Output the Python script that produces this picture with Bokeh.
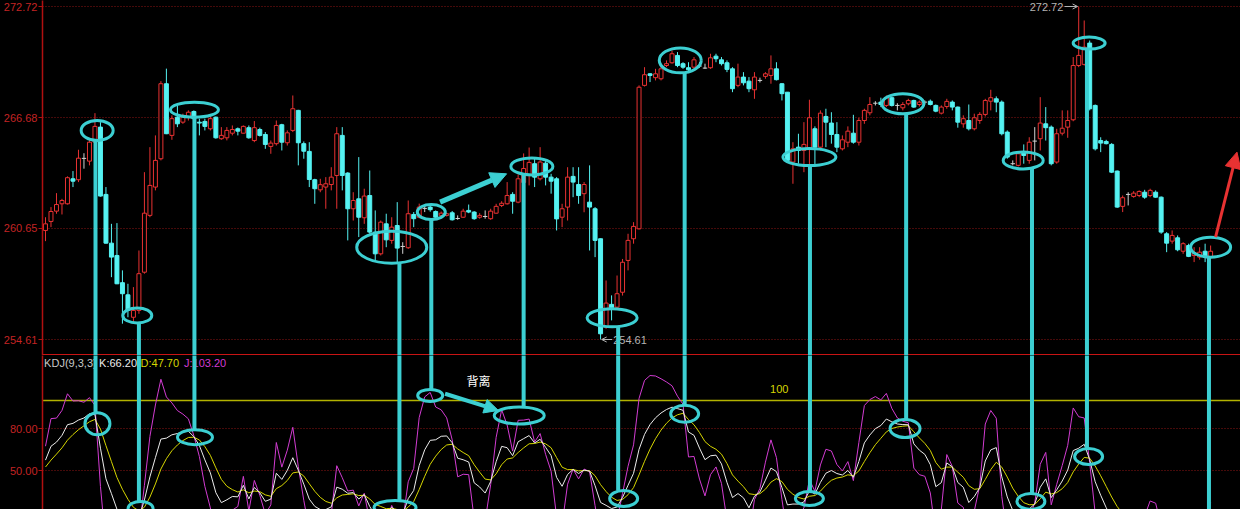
import numpy as np
from bokeh.plotting import figure
from bokeh.models import (Range1d, FixedTicker, PrintfTickFormatter, Span, Label,
                          Arrow, NormalHead, OpenHead)
from bokeh.layouts import column
from bokeh.embed import file_html
from bokeh.resources import INLINE

# ---------------- price bars (open / high / low / close) ----------------
open_ = [260.54, 261.03, 261.59, 261.99, 261.99, 263.35, 263.30, 264.46, 264.31, 265.34,
         266.16, 262.50, 259.85, 259.18, 257.70, 257.04, 255.82, 256.19, 258.27, 261.36,
         262.90, 264.44, 268.52, 265.71, 266.70, 266.43, 266.70, 267.01, 266.43, 266.47,
         266.07, 266.70, 265.53, 265.58, 265.83, 266.07, 265.83, 266.13, 265.43, 266.03,
         265.76, 265.11, 265.26, 266.29, 265.31, 265.98, 267.07, 265.26, 264.84, 263.30,
         262.75, 262.90, 263.04, 263.53, 265.71, 263.66, 261.72, 262.26, 261.23, 262.44,
         260.45, 259.27, 260.90, 260.00, 260.81, 259.67, 259.60, 261.41, 261.26, 261.74,
         261.81, 261.57, 261.36, 261.36, 261.50, 261.19, 261.26, 261.63, 261.54, 261.26,
         261.30, 261.18, 261.48, 261.90, 261.99, 262.50, 262.08, 263.15, 263.53, 264.17,
         263.35, 264.20, 263.44, 263.35, 261.26, 261.81, 263.48, 263.04, 262.54, 262.08,
         261.72, 260.09, 255.28, 256.52, 256.37, 257.18, 258.91, 260.09, 260.63, 268.43,
         269.06, 268.85, 268.79, 269.51, 269.66, 270.06, 269.61, 269.39, 269.42, 269.48,
         269.37, 269.39, 270.02, 269.82, 269.66, 269.33, 268.43, 268.88, 268.66, 268.19,
         268.70, 268.92, 268.97, 269.33, 268.52, 268.06, 264.26, 265.07, 264.89, 264.98,
         266.07, 265.07, 266.74, 266.38, 265.76, 264.98, 265.34, 265.83, 265.34, 266.52,
         266.94, 267.46, 267.52, 267.34, 267.76, 267.34, 267.21, 267.43, 267.61, 267.39,
         267.52, 267.57, 267.34, 266.92, 267.28, 267.52, 267.25, 266.34, 266.52, 266.07,
         266.52, 266.85, 267.57, 267.70, 267.52, 265.89, 264.17, 264.08, 264.80, 264.35,
         265.40, 265.53, 266.34, 266.16, 264.26, 265.83, 266.16, 266.56, 269.51, 269.57,
         270.73, 267.34, 265.43, 265.38, 265.22, 263.77, 261.85, 262.50, 262.39, 262.44,
         262.62, 262.44, 262.62, 262.35, 260.36, 259.96, 260.14, 259.41, 259.72, 259.18,
         259.09, 259.41, 259.09]
high = [261.26, 261.81, 262.57, 262.26, 263.48, 263.77, 264.93, 264.74, 265.53, 266.92,
        266.43, 262.90, 260.90, 260.94, 258.37, 257.64, 257.46, 259.45, 263.71, 265.07,
        265.71, 268.66, 269.34, 266.80, 267.34, 266.89, 267.07, 267.07, 266.62, 266.62,
        266.80, 266.74, 266.16, 266.16, 266.25, 266.14, 266.25, 266.25, 266.49, 266.13,
        265.89, 265.43, 266.52, 266.34, 265.98, 267.88, 267.10, 265.38, 265.34, 263.35,
        263.35, 263.44, 263.98, 266.16, 266.16, 263.71, 262.62, 264.53, 262.81, 263.80,
        261.63, 261.08, 261.45, 261.26, 262.08, 259.90, 262.17, 261.54, 262.00, 261.90,
        261.90, 261.63, 261.57, 261.50, 261.60, 261.36, 261.72, 261.95, 261.59, 261.48,
        261.63, 261.72, 261.99, 262.13, 263.17, 262.62, 263.59, 264.73, 265.05, 264.53,
        265.07, 264.35, 263.62, 263.44, 261.99, 263.98, 263.98, 263.98, 263.17, 264.08,
        261.81, 260.10, 257.82, 257.01, 258.09, 258.99, 260.36, 260.99, 268.43, 269.42,
        269.10, 269.33, 269.61, 269.79, 270.33, 270.24, 269.69, 269.69, 269.97, 269.69,
        269.61, 270.15, 270.15, 269.97, 269.79, 269.42, 269.61, 269.15, 268.88, 269.15,
        268.85, 269.15, 270.06, 269.69, 268.55, 268.06, 265.34, 265.80, 266.43, 267.65,
        266.20, 267.07, 267.16, 266.97, 266.43, 265.71, 266.20, 266.83, 266.67, 267.16,
        267.79, 267.57, 267.76, 267.88, 267.83, 267.46, 267.52, 267.70, 267.65, 267.61,
        267.61, 267.66, 267.39, 267.34, 267.70, 267.61, 267.28, 266.80, 267.39, 266.89,
        266.97, 267.70, 268.19, 267.83, 267.61, 265.98, 264.35, 264.80, 265.22, 265.61,
        266.16, 267.79, 267.25, 266.25, 266.07, 267.07, 267.07, 269.97, 272.72, 271.96,
        270.87, 267.39, 265.61, 265.47, 265.29, 263.80, 262.44, 262.62, 262.68, 262.72,
        262.75, 262.81, 262.72, 262.39, 260.45, 260.54, 260.27, 259.90, 259.82, 259.63,
        259.63, 259.82, 259.72]
low = [259.96, 260.72, 261.45, 261.41, 261.95, 262.90, 263.17, 263.90, 264.08, 265.30,
       262.38, 259.82, 258.00, 257.62, 255.47, 255.82, 255.55, 256.01, 258.19, 261.26,
       262.72, 264.35, 265.78, 265.47, 266.16, 266.34, 266.52, 266.43, 265.71, 265.98,
       265.98, 265.53, 265.47, 265.44, 265.71, 265.71, 265.82, 265.53, 265.34, 265.65,
       264.98, 264.71, 265.16, 264.89, 265.16, 265.89, 264.08, 264.44, 262.90, 261.99,
       262.62, 261.72, 262.72, 261.72, 262.72, 260.00, 261.08, 260.18, 260.90, 260.36,
       258.91, 259.18, 259.63, 259.82, 258.82, 259.27, 259.54, 260.72, 261.20, 261.54,
       261.56, 261.20, 261.31, 261.30, 261.08, 261.12, 261.23, 261.48, 261.12, 261.18,
       261.18, 261.12, 261.45, 261.81, 261.95, 261.45, 262.02, 263.10, 262.99, 262.90,
       263.26, 262.99, 262.54, 260.54, 260.72, 261.08, 262.35, 261.99, 261.53, 259.45,
       259.09, 254.61, 255.19, 255.65, 256.28, 257.00, 258.37, 259.82, 260.59, 268.37,
       268.61, 268.70, 268.70, 269.42, 269.61, 269.42, 269.33, 269.15, 269.33, 269.39,
       269.33, 269.33, 269.69, 269.51, 269.15, 268.06, 268.33, 268.43, 268.06, 267.70,
       268.59, 268.79, 268.52, 268.70, 267.61, 264.31, 263.08, 264.17, 263.71, 264.08,
       264.08, 264.89, 265.07, 265.26, 264.80, 264.89, 265.07, 265.26, 265.16, 266.34,
       266.80, 267.34, 267.25, 267.25, 267.28, 267.07, 267.07, 267.34, 267.21, 267.28,
       267.39, 267.34, 266.97, 266.85, 267.16, 267.07, 266.13, 266.13, 265.98, 265.98,
       266.34, 266.74, 267.07, 266.97, 265.71, 264.44, 264.08, 264.02, 264.17, 264.17,
       264.35, 264.89, 265.43, 264.08, 264.17, 265.71, 265.58, 266.48, 269.42, 269.51,
       267.07, 264.89, 264.80, 265.22, 263.66, 261.77, 261.54, 261.90, 262.32, 262.35,
       262.26, 262.35, 262.32, 260.36, 259.36, 259.82, 259.41, 259.27, 259.09, 258.82,
       258.95, 258.82, 259.00]
close = [260.90, 261.57, 261.95, 262.17, 263.41, 263.22, 264.47, 264.46, 265.34, 266.20,
         262.41, 259.85, 259.09, 257.64, 257.10, 256.19, 256.19, 258.19, 261.48, 262.99,
         264.35, 268.52, 265.80, 266.62, 266.34, 266.70, 266.97, 266.62, 266.38, 266.20,
         266.62, 265.58, 265.71, 265.98, 266.03, 265.94, 266.20, 265.58, 266.13, 265.71,
         265.22, 265.29, 266.25, 265.34, 265.85, 267.16, 265.31, 264.85, 263.31, 262.81,
         263.03, 263.08, 263.44, 265.80, 263.53, 261.72, 262.17, 261.26, 262.41, 260.45,
         259.27, 260.99, 260.03, 260.72, 259.58, 259.67, 261.45, 261.18, 261.81, 261.74,
         261.67, 261.26, 261.48, 261.45, 261.12, 261.19, 261.59, 261.54, 261.18, 261.36,
         261.30, 261.59, 261.85, 262.02, 262.44, 262.13, 263.35, 263.91, 264.24, 263.44,
         264.26, 263.44, 263.22, 261.17, 261.72, 263.44, 263.17, 262.44, 263.04, 261.81,
         260.00, 254.92, 256.59, 256.34, 257.10, 258.81, 260.00, 260.76, 268.33, 269.01,
         268.97, 269.06, 269.33, 269.61, 270.15, 269.51, 269.42, 269.28, 269.82, 269.48,
         269.37, 269.93, 269.88, 269.61, 269.30, 268.25, 268.88, 268.57, 268.25, 268.88,
         268.70, 269.06, 269.33, 268.74, 267.98, 264.35, 264.98, 264.89, 265.22, 266.67,
         265.07, 266.92, 266.43, 265.76, 265.07, 265.47, 265.94, 265.34, 266.52, 267.07,
         267.39, 267.46, 267.39, 267.76, 267.34, 267.34, 267.39, 267.61, 267.25, 267.52,
         267.52, 267.39, 267.03, 267.25, 267.56, 267.25, 266.43, 266.62, 266.07, 266.67,
         266.85, 267.61, 267.76, 267.52, 265.80, 264.53, 264.17, 264.71, 264.62, 265.34,
         265.40, 266.38, 266.13, 264.17, 265.80, 266.10, 266.52, 269.51, 270.06, 270.51,
         267.16, 264.98, 265.29, 265.26, 263.71, 261.81, 262.32, 262.50, 262.57, 262.66,
         262.35, 262.72, 262.35, 260.45, 259.85, 260.27, 259.49, 259.82, 259.13, 259.33,
         259.36, 259.09, 259.41]

price_ticks = [254.61, 260.65, 266.68, 272.72]
kdj_ticks = [50.0, 80.0]
kdj_header = ["KDJ(9,3,3)", "K:66.20", "D:47.70", "J:103.20"]
kdj_level = 100.0

# ---------------- hand-drawn markup: turning points ----------------
mark_x = [9.1, 17.0, 27.1, 64.4, 70.2, 87.0, 104.2, 116.3, 139.1, 156.6, 179.5, 189.5, 211.7]
# rings around the price turning points (bar position, price)
ring_px = [9.4, 16.7, 27.1, 63.0, 70.2, 88.5, 103.1, 115.5, 139.0, 156.0, 177.9, 189.9, 212.0]
ring_py = [265.98, 255.92, 267.11, 259.63, 261.54, 264.02, 255.79, 269.79, 264.53, 267.43,
           264.35, 270.73, 259.63]
ring_pw = [32, 29, 48, 70, 28, 42, 50, 42, 53, 42, 40, 32, 40]
ring_ph = [20, 15, 15, 32, 15, 17, 18, 25, 17, 20, 17, 12, 20]
# rings around the matching KDJ turning points (None: line runs to the bottom)
ring_kx = [9.45, 17.3, 27.2, 63.6, 70.0, 86.2, 105.2, 116.3, 139.0, 156.4, 179.3, 189.8, None]
ring_ky = [83.4, 22.9, 73.8, 23.6, 103.6, 89.3, 30.0, 90.5, 30.0, 80.0, 27.9, 60.0, None]
ring_kw = [25, 25, 35, 42, 25, 50, 28, 28, 28, 30, 28, 28, 0]
ring_kh = [22, 14, 15, 14, 12, 17, 16, 17, 14, 18, 16, 16, 0]

# ---------------- layout constants ----------------
W, H_TOP, H_BOT, LEFT = 1240, 355, 154, 40
BAR_PX, FIRST_PX = 5.505, 43.0
BG = "black"
UP, DOWN, FLAT = "#e83232", "#55f2f2", "#d2d2d2"
ANN = "#3ccfd2"
AXIS_RED, LABEL_RED, GRID_RED = "#b01010", "#c42424", "#8c1414"
K_COL, D_COL, J_COL = "#ececec", "#d6d600", "#d23cd2"
FONT = "Liberation Sans"

o = np.array(open_); h = np.array(high); l = np.array(low); c = np.array(close)
n = len(c)
idx = np.arange(n)

# KDJ(9,3,3)
K, D = [], []
kp = dp = 50.0
for i in range(n):
    lo = l[max(0, i - 8):i + 1].min()
    hi = h[max(0, i - 8):i + 1].max()
    rsv = (c[i] - lo) / (hi - lo) * 100 if hi > lo else 50.0
    kp = 2 / 3 * kp + rsv / 3
    dp = 2 / 3 * dp + kp / 3
    K.append(kp); D.append(dp)
K = np.array(K); D = np.array(D); J = 3 * K - 2 * D

xr = Range1d((LEFT - FIRST_PX) / BAR_PX, (W - FIRST_PX) / BAR_PX)
p_scale = (price_ticks[-1] - price_ticks[0]) / 333.0          # price per pixel
yr_top = Range1d(price_ticks[-1] - (H_TOP - 6) * p_scale, price_ticks[-1] + 6 * p_scale)
k_scale = 30.0 / 42.0                                          # kdj units per pixel
yr_bot = Range1d(80 - 81 * k_scale, 80 + 73 * k_scale)


def make_fig(height, yr, ticks):
    p = figure(width=W, height=height, x_range=xr, y_range=yr, output_backend="svg",
               toolbar_location=None, x_axis_location=None, y_axis_location="left",
               min_border_left=LEFT, min_border_right=0, min_border_top=0, min_border_bottom=0,
               background_fill_color=BG, border_fill_color=BG, outline_line_color=None)
    for g in p.xgrid:
        g.grid_line_color = None
    ax = p.yaxis[0]
    ax.ticker = FixedTicker(ticks=ticks)
    ax.formatter = PrintfTickFormatter(format="%.2f")
    ax.axis_line_color = AXIS_RED
    ax.axis_line_width = 1.5
    ax.major_tick_line_color = AXIS_RED
    ax.major_tick_in = 0
    ax.major_tick_out = 4
    ax.minor_tick_line_color = None
    ax.major_label_text_color = LABEL_RED
    ax.major_label_text_font = FONT
    ax.major_label_text_font_size = "11px"
    ax.major_label_standoff = 1
    g = p.ygrid[0]
    g.ticker = FixedTicker(ticks=ticks)
    g.grid_line_color = GRID_RED
    g.grid_line_dash = "1 2"
    g.grid_line_width = 1
    return p


p1 = make_fig(H_TOP, yr_top, price_ticks)
p2 = make_fig(H_BOT, yr_bot, kdj_ticks)

# ---- candlesticks ----
up = c > o
dn = c < o
fl = c == o
wick_col = np.where(up, UP, np.where(dn, DOWN, FLAT)).tolist()
p1.segment(idx, l, idx, h, color=wick_col, line_width=1)
p1.vbar(x=idx[up], bottom=o[up], top=c[up], width=0.72, fill_color=BG, line_color=UP, line_width=1)
p1.vbar(x=idx[dn], bottom=c[dn], top=o[dn], width=0.72, fill_color=DOWN, line_color=DOWN, line_width=1)
p1.segment(idx[fl] - 0.4, c[fl], idx[fl] + 0.4, c[fl], color=FLAT, line_width=1)

# panel separator
p1.add_layout(Span(location=yr_top.start + 0.8 * p_scale, dimension="width",
                   line_color="#c81414", line_width=1.5))

# extreme price markers
hi_i, lo_i = int(np.argmax(h)), int(np.argmin(l))
p1.add_layout(Arrow(end=OpenHead(size=5, line_color="#b4b4b4", line_width=1),
                    x_start=hi_i - 2.6, y_start=h[hi_i], x_end=hi_i - 0.2, y_end=h[hi_i],
                    line_color="#b4b4b4", line_width=1))
p1.add_layout(Label(x=hi_i - 2.8, y=h[hi_i], text=f"{h[hi_i]:.2f}", text_align="right",
                    text_baseline="middle", text_color="#b4b4b4", text_font=FONT,
                    text_font_size="11px"))
p1.add_layout(Arrow(end=OpenHead(size=5, line_color="#b4b4b4", line_width=1),
                    x_start=lo_i + 2.1, y_start=l[lo_i], x_end=lo_i + 0.2, y_end=l[lo_i],
                    line_color="#b4b4b4", line_width=1))
p1.add_layout(Label(x=lo_i + 2.3, y=l[lo_i], text=f"{l[lo_i]:.2f}", text_align="left",
                    text_baseline="middle", text_color="#b4b4b4", text_font=FONT,
                    text_font_size="11px"))

# ---- KDJ panel ----
p2.add_layout(Span(location=kdj_level, dimension="width", line_color="#b2b200",
                   line_width=1.5, level="underlay"))
p2.line(idx, J, line_color=J_COL, line_width=1)
p2.line(idx, D, line_color=D_COL, line_width=1)
p2.line(idx, K, line_color=K_COL, line_width=1)
p2.add_layout(Label(x=133.5, y=kdj_level + 8.5, text=f"{kdj_level:.0f}", text_color="#d6d600",
                    text_font=FONT, text_font_size="11px", text_align="center",
                    text_baseline="middle"))
head_x = [-0.25, 9.75, 17.3, 25.2]
head_col = ["#c8c8c8", K_COL, D_COL, J_COL]
for hx, txt, col in zip(head_x, kdj_header, head_col):
    p2.add_layout(Label(x=hx, y=126.6, text=txt, text_color=col, text_font=FONT,
                        text_font_size="11px", text_baseline="middle"))

# ---- markup: rings + connecting verticals ----
pr = p1.ellipse(ring_px, ring_py, width=ring_pw, height=ring_ph, width_units="screen",
                height_units="screen", fill_color=None, line_color=ANN, line_width=3)
pr.level = "overlay"
top_y0 = [py - ph / 2 * p_scale for py, ph in zip(ring_py, ring_ph)]
vl = p1.segment(mark_x, top_y0, mark_x, [yr_top.start] * len(mark_x), line_color=ANN,
                line_width=4)
vl.level = "overlay"

kx = [x for x in ring_kx if x is not None]
ky = [y for y in ring_ky if y is not None]
kw = [w for x, w in zip(ring_kx, ring_kw) if x is not None]
kh = [hh for x, hh in zip(ring_kx, ring_kh) if x is not None]
kr = p2.ellipse(kx, ky, width=kw, height=kh, width_units="screen", height_units="screen",
                fill_color=None, line_color=ANN, line_width=3)
kr.level = "overlay"
bot_y1 = [yr_bot.start if y is None else y + hh / 2 * k_scale for y, hh in zip(ring_ky, ring_kh)]
vl2 = p2.segment(mark_x, [yr_bot.end] * len(mark_x), mark_x, bot_y1, line_color=ANN, line_width=4)
vl2.level = "overlay"

# divergence arrows
a1 = Arrow(end=NormalHead(size=16, fill_color=ANN, line_color=ANN),
           x_start=71.8, y_start=262.08, x_end=83.9, y_end=263.62, line_color=ANN, line_width=5,
           level="overlay")
p1.add_layout(a1)
a2 = Arrow(end=NormalHead(size=14, fill_color=ANN, line_color=ANN),
           x_start=72.7, y_start=104.8, x_end=82.4, y_end=92.9, line_color=ANN, line_width=4,
           level="overlay")
p2.add_layout(a2)
p2.add_layout(Label(x=78.8, y=114.3, text="背离", text_color="white",
                    text_font="Noto Sans CJK SC", text_font_size="12px", text_align="center",
                    text_baseline="middle"))
a3 = Arrow(end=NormalHead(size=16, fill_color="#e83232", line_color="#e83232"),
           x_start=212.9, y_start=260.18, x_end=216.8, y_end=264.8, line_color="#e83232",
           line_width=3, level="overlay")
p1.add_layout(a3)

layout = column(p1, p2, spacing=0, background=BG)
open("out.html", "w").write(file_html(layout, INLINE))
